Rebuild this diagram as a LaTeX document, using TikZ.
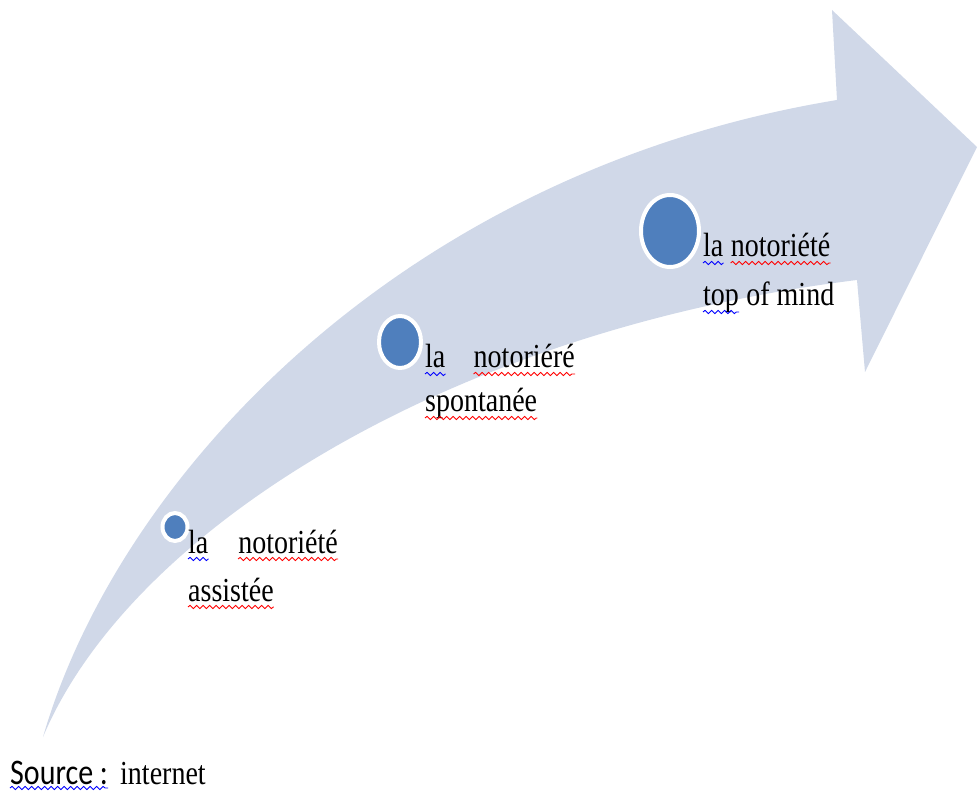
\documentclass[tikz,border=0pt]{standalone}
\usepackage{fontspec}
\setmainfont{Liberation Serif}
\newfontfamily\calfont{Carlito}
\usetikzlibrary{calc,decorations.pathmorphing,shapes.geometric}
\definecolor{bandblue}{HTML}{D0D8E8}
\definecolor{dotblue}{HTML}{4F7FBD}
\def\squig[#1](#2){\draw[#1] ($(#2.base west)+(0,6)$) -- ($(#2.base east)+(0,6)$);}
\tikzset{
	word/.style={inner sep=0pt, anchor=base west, yscale=1.2, font=\fontsize{28}{34}\selectfont},
	dot/.style={ellipse, fill=dotblue, draw=white, line width=4pt, inner sep=0pt},
	redwave/.style={draw=red, line width=0.9pt, decorate, decoration={snake, amplitude=1.6pt, segment length=6.5pt}},
	bluewave/.style={redwave, draw=blue}
}

\begin{document}
\begin{tikzpicture}[x=1pt, y=-1pt]
		%%%%% START %%%%%
		\useasboundingbox (0,0) rectangle (978,794);
		
		% curved arrow
		\fill[bandblue] (43,737) .. controls (118,478) and (400,172) .. (837,100)
			-- (832,10) -- (977,147) -- (865,372) -- (857,280)
			.. controls (450,330) and (130,530) .. (43,737) -- cycle;
		
		\node[dot, minimum width=25pt, minimum height=28pt] (d1) at (175,527) {};
		\node[dot, minimum width=42pt, minimum height=52pt] (d2) at (400,342) {};
		\node[dot, minimum width=58pt, minimum height=72pt] (d3) at (670,231) {};
		
		\node[word] (la1) at (188,553) {la};
		\node[word, anchor=base east] (not1) at (338,553) {notoriété};
		\node[word] (ass1) at (188,601) {assistée};
		
		\node[word] (la2) at (425,368) {la};
		\node[word, anchor=base east] (not2) at (575,368) {notoriéré};
		\node[word] (spo2) at (425,412) {spontanée};
		
		\node[word] (la3) at (703,257) {la};
		\node[word] (not3) at ([xshift=7pt]la3.base east) {notoriété};
		\node[word] (top3) at (703,306) {top};
		\node[word] (mind3) at ([xshift=7pt]top3.base east) {of mind};
		
		\node[word, font=\calfont\fontsize{30}{36}\selectfont] (src) at (10,784) {Source :};
		\node[word] (net) at (120,784) {internet};
		
		\squig[bluewave](la1)
		\squig[redwave](not1)
		\squig[redwave](ass1)
		\squig[bluewave](la2)
		\squig[redwave](not2)
		\squig[redwave](spo2)
		\squig[bluewave](la3)
		\squig[redwave](not3)
		\squig[bluewave](top3)
		\draw[bluewave] ($(src.base west)+(0,4)$) -- ($(src.base east)+(0,4)$);
		%%%%% END %%%%%
\end{tikzpicture}
\end{document}
